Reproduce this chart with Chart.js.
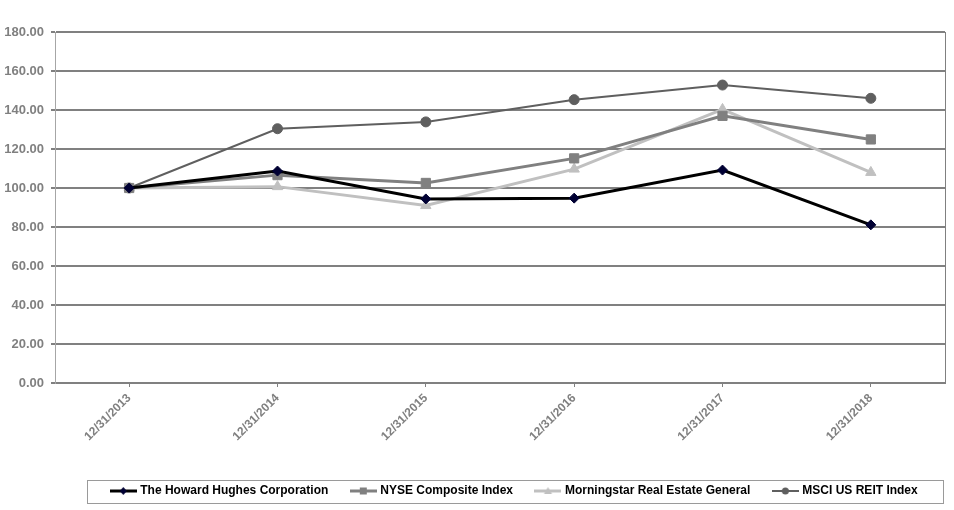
<!DOCTYPE html>
<html>
<head>
<meta charset="utf-8">
<script src="https://cdn.jsdelivr.net/npm/chart.js@4"></script>
<style>
  html, body { margin: 0; padding: 0; background: #fff; }
  #wrap { width: 954px; height: 510px; }
</style>
</head>
<body>
<div id="wrap"><canvas id="myChart" width="954" height="510"></canvas></div>
<script>
'use strict'

const years = ['12/31/2013', '12/31/2014', '12/31/2015', '12/31/2016', '12/31/2017', '12/31/2018'];
const hhcValues = [100, 108.7, 94.4, 94.8, 109.2, 81.1];
const nyseValues = [100, 106.6, 102.6, 115.2, 137.0, 124.9];
const morningstarValues = [100, 100.7, 91.0, 109.7, 140.3, 108.0];
const msciValues = [100, 130.4, 133.9, 145.3, 152.8, 146.0];
const seriesNames = ['The Howard Hughes Corporation', 'NYSE Composite Index', 'Morningstar Real Estate General', 'MSCI US REIT Index'];

const fontFamily = "'Liberation Sans', Arial, sans-serif";
const axisGray = '#808080';

// little line + marker pictures for the legend
function legendMark(lineColor, lineWidth, markColor, shape){
  const c = document.createElement('canvas');
  c.width = 27;
  c.height = 12;
  const ctx = c.getContext('2d');
  ctx.strokeStyle = lineColor;
  ctx.lineWidth = lineWidth;
  ctx.beginPath();
  ctx.moveTo(0, 6);
  ctx.lineTo(27, 6);
  ctx.stroke();
  ctx.fillStyle = markColor;
  ctx.beginPath();
  if (shape === 'diamond'){
    ctx.moveTo(13.5, 2); ctx.lineTo(17, 6); ctx.lineTo(13.5, 10); ctx.lineTo(10, 6);
  } else if (shape === 'square'){
    ctx.rect(10, 2.5, 7, 7);
  } else if (shape === 'triangle'){
    ctx.moveTo(13.5, 2); ctx.lineTo(17.5, 9); ctx.lineTo(9.5, 9);
  } else {
    ctx.arc(13.5, 6, 3.5, 0, Math.PI * 2);
  }
  ctx.closePath();
  ctx.fill();
  return c;
}

const legendMarks = [
  legendMark('#000000', 3, '#000033', 'diamond'),
  legendMark('#808080', 3, '#808080', 'square'),
  legendMark('#c0c0c0', 3, '#c0c0c0', 'triangle'),
  legendMark('#5f5f5f', 2, '#5f5f5f', 'circle')
];

// right edge of the plot and the frame round the legend
const framePlugin = {
  id: 'frame',
  afterLayout(chart){
    const legend = chart.legend;
    const shift = 515 - (legend.left + legend.right) / 2;
    legend.left += shift;
    legend.right += shift;
  },
  afterDraw(chart){
    const ctx = chart.ctx;
    const area = chart.chartArea;
    ctx.save();
    ctx.strokeStyle = axisGray;
    ctx.lineWidth = 1;
    ctx.beginPath();
    ctx.moveTo(area.right + 0.5, area.top);
    ctx.lineTo(area.right + 0.5, area.bottom);
    ctx.stroke();

    const boxes = chart.legend.legendHitBoxes;
    if (boxes.length){
      const first = boxes[0];
      const last = boxes[boxes.length - 1];
      const cy = first.top + first.height / 2;
      const left = Math.round(first.left - 25) + 0.5;
      const right = Math.round(last.left + last.width + 25) + 0.5;
      ctx.strokeStyle = '#9a9a9a';
      ctx.strokeRect(left, Math.round(cy - 11.5) + 0.5, right - left, 23);
    }
    ctx.restore();
  }
};

function makeChart(){
  const ctx = document.getElementById('myChart').getContext('2d');

  const myChart = new Chart(ctx, {
    type: 'line',
    data: {
      labels: years,
      datasets: [{
        label: seriesNames[0],
        data: hhcValues,
        borderColor: '#000000',
        borderWidth: 3,
        pointStyle: 'rectRot',
        pointRadius: 5,
        pointBackgroundColor: '#000033',
        pointBorderColor: '#000033',
        pointBorderWidth: 1
      },
      {
        label: seriesNames[1],
        data: nyseValues,
        borderColor: '#808080',
        borderWidth: 3,
        pointStyle: 'rect',
        pointRadius: 6.5,
        pointBackgroundColor: '#808080',
        pointBorderColor: '#808080',
        pointBorderWidth: 1
      },
      {
        label: seriesNames[2],
        data: morningstarValues,
        borderColor: '#c0c0c0',
        borderWidth: 3,
        pointStyle: 'triangle',
        pointRadius: 6,
        pointBackgroundColor: '#c0c0c0',
        pointBorderColor: '#c0c0c0',
        pointBorderWidth: 1
      },
      {
        label: seriesNames[3],
        data: msciValues,
        borderColor: '#5f5f5f',
        borderWidth: 2,
        pointStyle: 'circle',
        pointRadius: 5,
        pointBackgroundColor: '#5f5f5f',
        pointBorderColor: '#5f5f5f',
        pointBorderWidth: 1
      }]
    },
    options: {
      responsive: false,
      animation: false,
      events: [],
      layout: {
        padding: { top: 32, right: 9, bottom: 3, left: 0 }
      },
      scales: {
        x: {
          offset: true,
          grid: {
            offset: false,
            drawOnChartArea: false,
            drawTicks: true,
            tickLength: 4,
            color: axisGray,
            lineWidth: 1
          },
          border: { color: axisGray, width: 2 },
          ticks: {
            minRotation: 45,
            maxRotation: 45,
            padding: 4,
            color: axisGray,
            font: { family: fontFamily, size: 12, weight: 'bold' }
          },
          afterFit(scale){
            scale.height = 78;
          }
        },
        y: {
          min: 0,
          max: 180,
          grid: {
            color: axisGray,
            lineWidth: 2,
            tickLength: 4
          },
          border: { color: '#a6a6a6', width: 1 },
          ticks: {
            stepSize: 20,
            padding: 7,
            color: axisGray,
            font: { family: fontFamily, size: 13, weight: 'bold' },
            callback: function(v){ return v.toFixed(2); }
          },
          afterFit(scale){
            scale.width = 55;
          }
        }
      },
      plugins: {
        tooltip: { enabled: false },
        legend: {
          position: 'bottom',
          labels: {
            usePointStyle: true,
            pointStyleWidth: 22,
            padding: 24,
            color: '#000000',
            font: { family: fontFamily, size: 12, weight: 'bold' },
            generateLabels(chart){
              const items = Chart.defaults.plugins.legend.labels.generateLabels(chart);
              items.forEach(function(item, i){
                item.pointStyle = legendMarks[i];
              });
              return items;
            }
          }
        }
      }
    },
    plugins: [framePlugin]
  });
}

makeChart();
</script>
</body>
</html>
